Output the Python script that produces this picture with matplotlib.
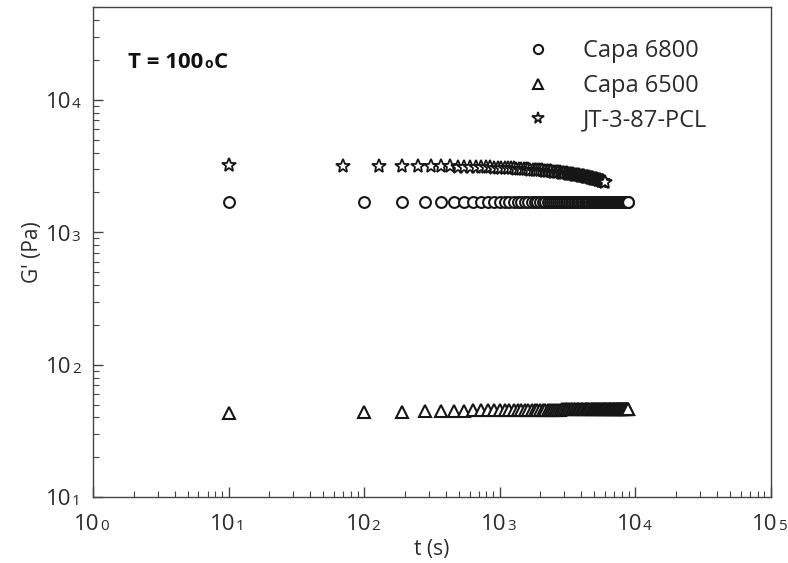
import matplotlib
matplotlib.use('Agg')
from matplotlib import pyplot as plt
from matplotlib.transforms import blended_transform_factory, ScaledTranslation, IdentityTransform

plt.rcParams['font.family'] = 'Open Sans'

# sampling times (s)
t_capa = [10, 100, 190, 280, 370, 460, 550, 640, 730, 820,
          910, 1000, 1090, 1180, 1270, 1360, 1450, 1540, 1630, 1720,
          1810, 1900, 1990, 2080, 2170, 2260, 2350, 2440, 2530, 2620,
          2710, 2800, 2890, 2980, 3070, 3160, 3250, 3340, 3430, 3520,
          3610, 3700, 3790, 3880, 3970, 4060, 4150, 4240, 4330, 4420,
          4510, 4600, 4690, 4780, 4870, 4960, 5050, 5140, 5230, 5320,
          5410, 5500, 5590, 5680, 5770, 5860, 5950, 6040, 6130, 6220,
          6310, 6400, 6490, 6580, 6670, 6760, 6850, 6940, 7030, 7120,
          7210, 7300, 7390, 7480, 7570, 7660, 7750, 7840, 7930, 8020,
          8110, 8200, 8290, 8380, 8470, 8560, 8650, 8740, 8830, 8920]
t_jt = [10, 70, 130, 190, 250, 310, 370, 430, 490, 550,
        610, 670, 730, 790, 850, 910, 970, 1030, 1090, 1150,
        1210, 1270, 1330, 1390, 1450, 1510, 1570, 1630, 1690, 1750,
        1810, 1870, 1930, 1990, 2050, 2110, 2170, 2230, 2290, 2350,
        2410, 2470, 2530, 2590, 2650, 2710, 2770, 2830, 2890, 2950,
        3010, 3070, 3130, 3190, 3250, 3310, 3370, 3430, 3490, 3550,
        3610, 3670, 3730, 3790, 3850, 3910, 3970, 4030, 4090, 4150,
        4210, 4270, 4330, 4390, 4450, 4510, 4570, 4630, 4690, 4750,
        4810, 4870, 4930, 4990, 5050, 5110, 5170, 5230, 5290, 5350,
        5410, 5470, 5530, 5590, 5650, 5710, 5770, 5830, 5890, 5950]

# storage modulus G' (Pa)
g_6800 = [1700, 1700, 1700, 1700, 1700, 1700, 1700, 1700, 1700, 1700,
          1700, 1700, 1700, 1700, 1700, 1700, 1700, 1700, 1700, 1700,
          1698, 1698, 1698, 1698, 1698, 1698, 1698, 1698, 1698, 1698,
          1697, 1697, 1697, 1697, 1697, 1697, 1697, 1697, 1697, 1697,
          1696, 1696, 1696, 1696, 1696, 1696, 1696, 1696, 1696, 1696,
          1695, 1695, 1695, 1695, 1695, 1695, 1695, 1695, 1695, 1695,
          1694, 1694, 1694, 1694, 1694, 1694, 1694, 1694, 1694, 1694,
          1693, 1693, 1693, 1693, 1693, 1693, 1693, 1693, 1693, 1693,
          1692, 1692, 1692, 1692, 1692, 1692, 1692, 1692, 1692, 1692,
          1691, 1691, 1691, 1691, 1691, 1691, 1691, 1691, 1691, 1690]
g_6500 = [43.5, 44.0, 44.3, 44.6, 44.8, 45.0, 45.1, 45.2, 45.3, 45.4,
          45.4, 45.5, 45.5, 45.5, 45.6, 45.6, 45.6, 45.6, 45.7, 45.7,
          45.7, 45.7, 45.7, 45.8, 45.8, 45.8, 45.8, 45.8, 45.8, 45.8,
          45.8, 45.8, 45.9, 45.9, 45.9, 45.9, 45.9, 45.9, 45.9, 45.9,
          45.9, 45.9, 45.9, 45.9, 46.0, 46.0, 46.0, 46.0, 46.0, 46.0,
          46.0, 46.0, 46.0, 46.0, 46.0, 46.0, 46.0, 46.0, 46.0, 46.0,
          46.1, 46.1, 46.1, 46.1, 46.1, 46.1, 46.1, 46.1, 46.1, 46.1,
          46.1, 46.1, 46.1, 46.1, 46.1, 46.1, 46.1, 46.1, 46.1, 46.1,
          46.2, 46.2, 46.2, 46.2, 46.2, 46.2, 46.2, 46.2, 46.2, 46.2,
          46.2, 46.2, 46.2, 46.2, 46.2, 46.2, 46.2, 46.2, 46.2, 46.2]
g_jt = [3200, 3193, 3186, 3178, 3170, 3162, 3154, 3146, 3138, 3130,
        3122, 3114, 3106, 3098, 3090, 3082, 3074, 3066, 3058, 3050,
        3042, 3034, 3026, 3018, 3010, 3002, 2994, 2986, 2978, 2970,
        2962, 2954, 2946, 2938, 2930, 2922, 2914, 2906, 2898, 2890,
        2882, 2874, 2866, 2858, 2850, 2842, 2834, 2826, 2818, 2810,
        2802, 2794, 2786, 2778, 2770, 2762, 2754, 2746, 2738, 2730,
        2722, 2714, 2706, 2698, 2690, 2682, 2674, 2666, 2658, 2650,
        2642, 2634, 2626, 2618, 2610, 2602, 2594, 2586, 2578, 2570,
        2562, 2554, 2546, 2538, 2530, 2522, 2514, 2506, 2498, 2490,
        2482, 2474, 2466, 2458, 2450, 2442, 2434, 2426, 2418, 2410]

labels = ['Capa 6800', 'Capa 6500', 'JT-3-87-PCL']
x_decades = [0, 1, 2, 3, 4, 5]
y_decades = [1, 2, 3, 4]

ink = '#2b2b2b'
mark = '#161616'

fig = plt.figure(figsize=(7.88, 5.63), dpi=100)
ax = fig.add_axes([0.118, 0.117, 0.860, 0.870])

ax.plot(t_capa, g_6800, ls='none', marker='o', ms=7.8, mfc='white', mec=mark, mew=1.5, label=labels[0])
ax.plot(t_capa, g_6500, ls='none', marker='^', ms=8.3, mfc='white', mec=mark, mew=1.5, label=labels[1])
ax.plot(t_jt, g_jt, ls='none', marker='*', ms=10, mfc='white', mec=mark, mew=1.3, label=labels[2])

ax.set_xscale('log')
ax.set_yscale('log')
ax.set_xlim(1, 1e5)
ax.set_ylim(10, 5e4)

for s in ax.spines.values():
    s.set_color('#444444')
    s.set_linewidth(1.0)
ax.tick_params(which='both', direction='in', top=False, right=False,
               labelbottom=False, labelleft=False, color='#444444')
ax.tick_params(which='major', length=7, width=1.0)
ax.tick_params(which='minor', length=4, width=0.8)


def offset(base, dx, dy):
    return base + ScaledTranslation(dx / 72, dy / 72, fig.dpi_scale_trans)


# tick labels: "10" with a small exponent sitting on the baseline
xtrans = blended_transform_factory(ax.transData, ax.transAxes)
ytrans = blended_transform_factory(ax.transAxes, ax.transData)
for d in x_decades:
    ax.text(10.0 ** d, 0, '10', transform=offset(xtrans, 5, -24),
            ha='right', va='baseline', fontsize=16, color=ink)
    ax.text(10.0 ** d, 0, str(d), transform=offset(xtrans, 5.3, -24),
            ha='left', va='baseline', fontsize=11, color=ink)
for d in y_decades:
    ax.text(0, 10.0 ** d, '10', transform=offset(ytrans, -15.5, -6),
            ha='right', va='baseline', fontsize=16, color=ink)
    ax.text(0, 10.0 ** d, str(d), transform=offset(ytrans, -15.2, -6),
            ha='left', va='baseline', fontsize=11, color=ink)

ax.set_xlabel('t (s)', fontsize=15, color=ink, labelpad=30)
ax.set_ylabel("G' (Pa)", fontsize=15, color=ink, labelpad=36)

# temperature note, small "o" on the baseline
tt = ax.text(0.052, 0.876, 'T = 100', transform=ax.transAxes, fontsize=16,
             fontweight='bold', color='#111111', va='baseline', ha='left')
fig.canvas.draw()
r = fig.canvas.get_renderer()
bx, by = ax.transAxes.transform((0.052, 0.876))
x1 = tt.get_window_extent(renderer=r).x1
to = ax.text(x1 + 1, by, 'o', transform=IdentityTransform(), fontsize=10,
             fontweight='bold', color='#111111', va='baseline', ha='left')
x2 = to.get_window_extent(renderer=r).x1
ax.text(x2 + 0.5, by, 'C', transform=IdentityTransform(), fontsize=16,
        fontweight='bold', color='#111111', va='baseline', ha='left')

ax.legend(loc='upper left', bbox_to_anchor=(0.639, 0.935), frameon=False,
          fontsize=17, numpoints=1, handlelength=1.0, handletextpad=1.4,
          labelspacing=0.45, borderpad=0, borderaxespad=0, labelcolor=ink,
          markerscale=0.85)

plt.savefig('out.png', dpi=100)
